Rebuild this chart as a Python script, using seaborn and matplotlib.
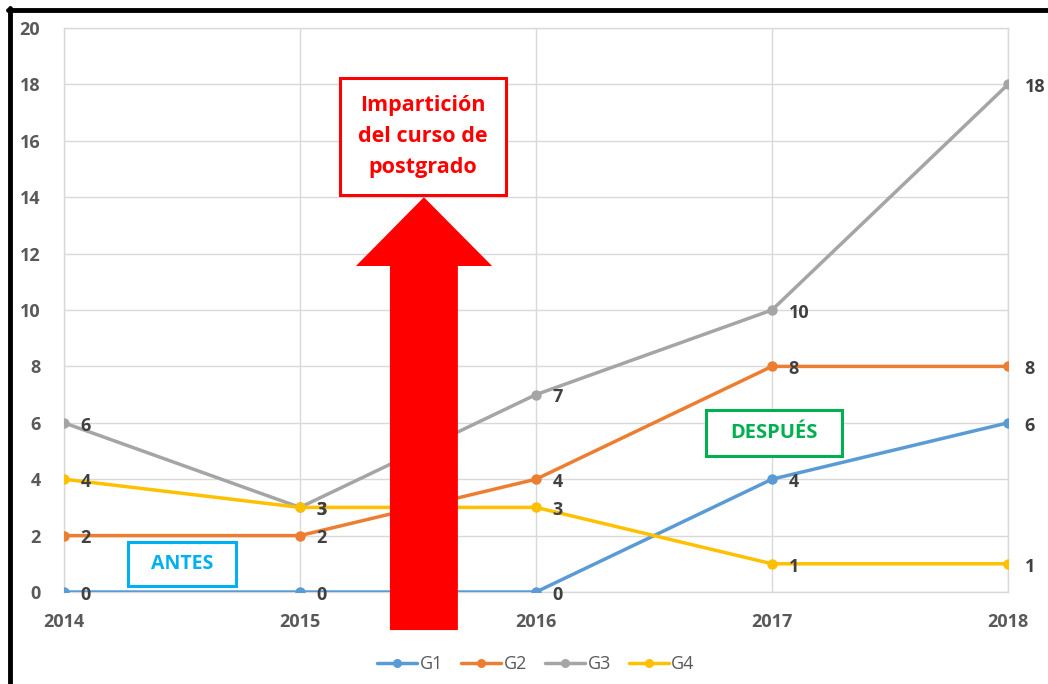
import matplotlib
matplotlib.use("Agg")
import matplotlib.pyplot as plt
import seaborn as sns
import pandas as pd
from matplotlib.lines import Line2D
from matplotlib.patches import Polygon, Rectangle

years = [2014, 2015, 2016, 2017, 2018]
series_names = ["G1", "G2", "G3", "G4"]
g1 = [0, 0, 0, 4, 6]
g2 = [2, 2, 4, 8, 8]
g3 = [6, 3, 7, 10, 18]
g4 = [4, 3, 3, 1, 1]
colors = ["#5B9BD5", "#ED7D31", "#A5A5A5", "#FFC000"]
y_ticks = list(range(0, 21, 2))

sns.set_theme(style="white")
plt.rcParams['font.family'] = ['Open Sans', 'DejaVu Sans']

rows = []
for name, vals in zip(series_names, [g1, g2, g3, g4]):
    for yr, v in zip(years, vals):
        rows.append({"year": yr, "value": v, "serie": name})
df = pd.DataFrame(rows)

fig = plt.figure(figsize=(10.48, 6.84), dpi=100)
ax = fig.add_axes([64/1048, 92/684, (1008-64)/1048, (592-28)/684])

sns.lineplot(data=df, x="year", y="value", hue="serie", palette=colors,
             marker="o", markersize=7.5, markeredgewidth=0, linewidth=2.5,
             ax=ax, legend=False, zorder=3)

ax.set_xlim(2014, 2018)
ax.set_ylim(0, 20)
ax.set_xticks(years)
ax.set_xticks([2014.5, 2015.5, 2016.5, 2017.5], minor=True)
ax.set_yticks(y_ticks)
ax.set_xlabel("")
ax.set_ylabel("")
ax.grid(True, which="major", color="#D9D9D9", linewidth=1)
for s in ax.spines.values():
    s.set_color("#D9D9D9")
    s.set_linewidth(1)
ax.tick_params(axis="both", which="major", length=0, labelsize=13, labelcolor="#595959")
ax.tick_params(axis="x", which="major", pad=15)
ax.tick_params(axis="y", which="major", pad=17)
ax.tick_params(axis="x", which="minor", direction="in", length=4, color="#D9D9D9", width=1)
for lab in ax.get_xticklabels() + ax.get_yticklabels():
    lab.set_fontweight("bold")

# data labels
for name, vals in zip(series_names, [g1, g2, g3, g4]):
    for yr, v in zip(years, vals):
        ax.annotate(str(v), (yr, v), xytext=(12, -2), textcoords="offset points",
                    ha="left", va="center", fontsize=13, fontweight="bold",
                    color="#404040", zorder=5, annotation_clip=False)

# red arrow
arrow_pts = [(2015.381, -1.35), (2015.669, -1.35), (2015.669, 11.56),
             (2015.814, 11.56), (2015.525, 14.0), (2015.237, 11.56),
             (2015.381, 11.56)]
ax.add_patch(Polygon(arrow_pts, closed=True, facecolor="#FF0000",
                     edgecolor="none", clip_on=False, zorder=6))

def boxed(x0, x1, y0, y1, text, color, fs, ls=1.2):
    ax.add_patch(Rectangle((x0, y0), x1 - x0, y1 - y0, facecolor="white",
                           edgecolor=color, linewidth=2.2, zorder=7, clip_on=False))
    ax.text((x0 + x1) / 2, (y0 + y1) / 2, text, ha="center", va="center",
            fontsize=fs, fontweight="bold", color=color, linespacing=ls, zorder=8)

boxed(2015.169, 2015.873, 14.078, 18.227, "Impartición\ndel curso de\npostgrado",
      "#FF0000", 15.5, 1.65)
boxed(2014.271, 2014.729, 0.213, 1.773, "ANTES", "#00B0F0", 14)
boxed(2016.720, 2017.297, 4.823, 6.454, "DESPUÉS", "#00B050", 14.5)

# legend
handles = [Line2D([0], [0], color=c, lw=2.5, marker="o", markersize=6.5, markeredgewidth=0)
           for c in colors]
fig.legend(handles, series_names, loc="center", bbox_to_anchor=(536/1048, 1 - 664/684),
           ncol=4, frameon=False, fontsize=13, labelcolor="#595959",
           handlelength=2.2, columnspacing=1.0, handletextpad=0.15)

# black frame (left and top)
fig.add_artist(Line2D([10/1048, 10/1048], [0, 1 - 8/684], color="black", lw=3.5,
                      transform=fig.transFigure))
fig.add_artist(Line2D([8/1048, 1], [1 - 10/684, 1 - 10/684], color="black", lw=3.5,
                      transform=fig.transFigure))

fig.savefig("out.png", dpi=100)
